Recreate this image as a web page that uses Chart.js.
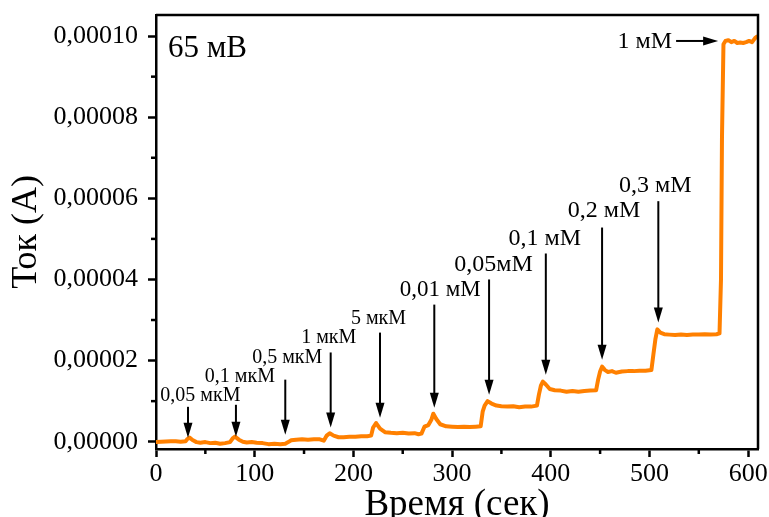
<!DOCTYPE html>
<html>
<head>
<meta charset="utf-8">
<script src="https://cdn.jsdelivr.net/npm/chart.js@4.4.1/dist/chart.umd.min.js"></script>
<style>
  html, body { margin: 0; padding: 0; background: #fff; }
  #wrap { width: 769px; height: 517px; }
</style>
</head>
<body>
<div id="wrap"><canvas id="c"></canvas></div>
<script>
// time, s
var timeS = [0, 5, 10, 15, 20, 25, 30, 32, 34, 37, 41, 45, 50, 55, 60, 65, 70, 75, 78, 80,
  84, 88, 92, 97, 102, 108, 114, 120, 126, 131, 134, 137, 142, 148, 154, 160, 166, 170, 173, 176,
  180, 185, 190, 196, 202, 208, 214, 218, 220, 223, 227, 232, 238, 244, 250, 256, 262, 266, 269, 272,
  276, 279, 281, 284, 288, 294, 300, 306, 312, 318, 324, 329, 331, 333, 336, 340, 345, 350, 356, 362,
  368, 374, 380, 386, 388, 390, 392, 395, 399, 404, 410, 416, 422, 428, 434, 440, 446, 448, 450, 452,
  455, 458, 462, 466, 472, 478, 484, 490, 496, 502, 504, 506, 508, 511, 515, 520, 526, 532, 538, 544,
  550, 556, 562, 568, 571, 572.5, 573.5, 575, 577, 580, 583, 586, 589, 592, 595, 598, 601, 604, 607, 609];
// current, microampere
var currentUA = [-0.1, 0.0, 0.05, 0.1, 0.1, 0.0, 0.1, 0.7, 1.0, 0.4, -0.1, -0.25, -0.1, -0.35, -0.25, -0.5, -0.35, -0.1, 0.9, 1.25,
  0.5, 0.0, -0.2, -0.1, -0.25, -0.35, -0.6, -0.5, -0.6, -0.5, -0.1, 0.35, 0.5, 0.6, 0.5, 0.6, 0.6, 0.25, 1.5, 2.1,
  1.5, 1.1, 1.1, 1.2, 1.2, 1.35, 1.35, 1.5, 3.5, 4.6, 3.2, 2.35, 2.2, 2.1, 2.2, 2.0, 2.1, 1.85, 2.0, 3.7,
  4.1, 5.4, 6.9, 5.6, 4.3, 3.8, 3.7, 3.6, 3.7, 3.6, 3.7, 3.8, 7.4, 8.9, 10.0, 9.4, 8.9, 8.75, 8.65, 8.75,
  8.5, 8.65, 8.65, 8.9, 11.6, 13.8, 14.8, 14.1, 13.0, 12.7, 12.6, 12.3, 12.5, 12.3, 12.5, 12.6, 12.7, 15.3, 17.3, 18.5,
  17.65, 17.2, 17.4, 17.0, 17.3, 17.4, 17.4, 17.5, 17.5, 17.65, 21.5, 25.2, 27.7, 26.9, 26.5, 26.4, 26.3, 26.4, 26.3, 26.4,
  26.4, 26.5, 26.4, 26.5, 26.7, 40.0, 75.0, 98.0, 98.8, 99.0, 98.5, 98.8, 98.3, 98.4, 98.3, 98.5, 98.8, 98.5, 99.5, 99.9];

var xTicks = [0, 100, 200, 300, 400, 500, 600];
var xMinor = [50, 150, 250, 350, 450, 550];
var yTicks = [0, 20, 40, 60, 80, 100];
var yMinor = [10, 30, 50, 70, 90];

// additions (time of addition, label)
var addTimes = [32.4, 81, 131, 177, 227, 282, 337.5, 395, 452, 509];
var addLabels = ['0,05 мкМ', '0,1 мкМ', '0,5 мкМ', '1 мкМ', '5 мкМ', '0,01 мМ', '0,05мМ', '0,1 мМ', '0,2 мМ', '0,3 мМ'];
var lastLabel = '1 мМ';
var voltageLabel = '65 мВ';

// annotation layout (data units)
var arrowTop = [8.6, 9.1, 15.3, 22.0, 26.9, 33.8, 40.0, 46.4, 52.8, 59.3];
var arrowTip = [1.0, 1.2, 1.7, 3.5, 5.9, 8.4, 11.6, 16.5, 20.2, 29.4];
var labelX = [45, 85, 133, 175, 225.5, 288, 342, 394, 454, 506];
var labelY = [10.1, 14.6, 19.5, 24.4, 29.1, 35.8, 42.0, 48.6, 55.3, 61.5];
var labelSize = [20, 20, 20, 20, 20, 23, 24, 24, 24, 24];

var SERIF = "'Liberation Serif', 'Times New Roman', serif";

function arrowDown(ctx, x, y1, y2){
  ctx.beginPath(); ctx.moveTo(x, y1); ctx.lineTo(x, y2 - 12); ctx.stroke();
  ctx.beginPath(); ctx.moveTo(x, y2); ctx.lineTo(x - 4.5, y2 - 15); ctx.lineTo(x + 4.5, y2 - 15); ctx.closePath(); ctx.fill();
}
function arrowRight(ctx, x1, x2, y){
  ctx.beginPath(); ctx.moveTo(x1, y); ctx.lineTo(x2 - 12, y); ctx.stroke();
  ctx.beginPath(); ctx.moveTo(x2, y); ctx.lineTo(x2 - 15, y - 4.5); ctx.lineTo(x2 - 15, y + 4.5); ctx.closePath(); ctx.fill();
}

var decor = {
  id: 'decor',
  afterDraw: function(chart){
    var ctx = chart.ctx, a = chart.chartArea, xs = chart.scales.x, ys = chart.scales.y;
    ctx.save();
    ctx.strokeStyle = '#000'; ctx.fillStyle = '#000'; ctx.lineWidth = 2.5;
    ctx.beginPath(); ctx.moveTo(a.left, a.top); ctx.lineTo(a.right, a.top); ctx.lineTo(a.right, a.bottom); ctx.stroke();
    xMinor.forEach(function(v){
      var px = xs.getPixelForValue(v);
      ctx.beginPath(); ctx.moveTo(px, a.bottom); ctx.lineTo(px, a.bottom + 5); ctx.stroke();
    });
    yMinor.forEach(function(v){
      var py = ys.getPixelForValue(v);
      ctx.beginPath(); ctx.moveTo(a.left, py); ctx.lineTo(a.left - 5, py); ctx.stroke();
    });
    // arrows + labels
    ctx.lineWidth = 2;
    ctx.textAlign = 'center'; ctx.textBaseline = 'alphabetic';
    addTimes.forEach(function(t, i){
      var px = xs.getPixelForValue(t);
      arrowDown(ctx, px, ys.getPixelForValue(arrowTop[i]), ys.getPixelForValue(arrowTip[i]));
      ctx.font = labelSize[i] + 'px ' + SERIF;
      ctx.fillText(addLabels[i], xs.getPixelForValue(labelX[i]), ys.getPixelForValue(labelY[i]));
    });
    var hy = ys.getPixelForValue(98.8);
    arrowRight(ctx, xs.getPixelForValue(527), xs.getPixelForValue(569.6), hy);
    ctx.font = '24px ' + SERIF; ctx.textAlign = 'right'; ctx.textBaseline = 'middle';
    ctx.fillText(lastLabel, xs.getPixelForValue(523), hy + 1);
    ctx.font = '31px ' + SERIF; ctx.textAlign = 'left'; ctx.textBaseline = 'alphabetic';
    ctx.fillText(voltageLabel, a.left + 12, a.top + 42);
    ctx.restore();
  }
};

new Chart(document.getElementById('c'), {
  type: 'line',
  data: {
    datasets: [{
      data: timeS.map(function(t, i){ return {x: t, y: currentUA[i]}; }),
      borderColor: '#ff8000',
      borderWidth: 4,
      borderJoinStyle: 'round',
      borderCapStyle: 'round',
      pointRadius: 0,
      tension: 0,
      fill: false
    }]
  },
  options: {
    responsive: true,
    maintainAspectRatio: false,
    animation: false,
    events: [],
    layout: { padding: { left: 0, right: 11, top: 15, bottom: 0 } },
    plugins: { legend: { display: false }, tooltip: { enabled: false } },
    scales: {
      x: {
        type: 'linear', min: 0, max: 610,
        afterBuildTicks: function(s){ s.ticks = xTicks.map(function(v){ return {value: v}; }); },
        afterFit: function(s){ s.height = 68; s.paddingLeft = 0; s.paddingRight = 0; },
        grid: { drawOnChartArea: false, drawTicks: true, tickLength: 8, tickWidth: 2.5, tickColor: '#000' },
        border: { display: true, color: '#000', width: 2.5 },
        ticks: { color: '#000', padding: 2, maxRotation: 0, font: { family: SERIF, size: 26 } },
        title: { display: true, text: 'Время (сек)', color: '#000', padding: 0,
          font: { family: SERIF, size: 37, lineHeight: 0.65 } }
      },
      y: {
        type: 'linear', min: -1.8, max: 105.2,
        afterBuildTicks: function(s){ s.ticks = yTicks.map(function(v){ return {value: v}; }); },
        afterFit: function(s){ s.width = 156; s.paddingTop = 0; s.paddingBottom = 0; },
        grid: { drawOnChartArea: false, drawTicks: true, tickLength: 8, tickWidth: 2.5, tickColor: '#000' },
        border: { display: true, color: '#000', width: 2.5 },
        ticks: { color: '#000', padding: 10, font: { family: SERIF, size: 26 },
          callback: function(v){ return (v / 1e6).toFixed(5).replace('.', ','); } },
        title: { display: true, text: 'Ток (А)', color: '#000', padding: { top: 9, bottom: 0 },
          font: { family: SERIF, size: 36, lineHeight: 1.0 } }
      }
    }
  },
  plugins: [decor]
});
</script>
</body>
</html>
